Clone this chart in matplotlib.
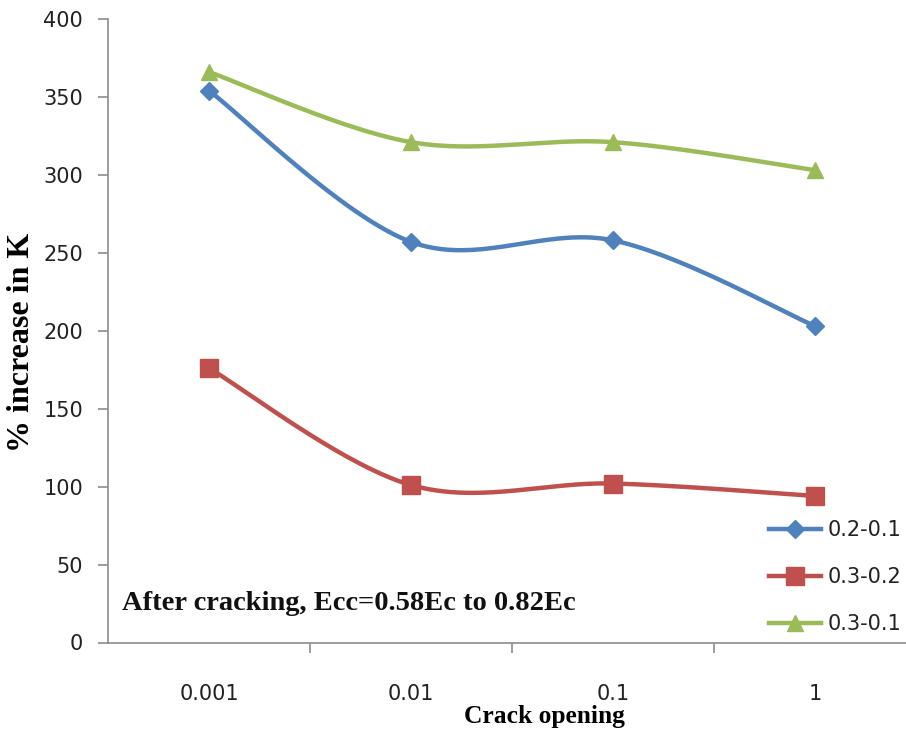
import numpy as np
import matplotlib
matplotlib.use("Agg")
import matplotlib.pyplot as plt

# Data
crack_opening = ["0.001", "0.01", "0.1", "1"]
series_labels = ["0.2-0.1", "0.3-0.2", "0.3-0.1"]
k_02_01 = [354, 257, 258, 203]
k_03_02 = [176, 101, 102, 94]
k_03_01 = [366, 321, 321, 303]

colors = ["#4F81BD", "#C0504D", "#9BBB59"]
markers = ["D", "s", "^"]
msizes = [9.5, 13, 12]


def smooth_curve(xs, ys, n=60):
    """Catmull-Rom style cubic Bezier through the points (spreadsheet 'smoothed line')."""
    P = np.column_stack([xs, ys]).astype(float)
    ext = np.vstack([P[0], P, P[-1]])
    out = []
    for i in range(len(P) - 1):
        p0, p1, p2, p3 = ext[i], ext[i + 1], ext[i + 2], ext[i + 3]
        c1 = p1 + (p2 - p0) / 6.0
        c2 = p2 - (p3 - p1) / 6.0
        t = np.linspace(0, 1, n)[:, None]
        seg = ((1 - t) ** 3) * p1 + 3 * ((1 - t) ** 2) * t * c1 + 3 * (1 - t) * t ** 2 * c2 + t ** 3 * p2
        out.append(seg if i == 0 else seg[1:])
    seg = np.vstack(out)
    return seg[:, 0], seg[:, 1]


W, H = 906, 732
fig = plt.figure(figsize=(W / 100, H / 100), dpi=100)
ax = fig.add_axes([108 / W, 89.5 / H, 808 / W, 623.5 / H])

x = np.arange(1, len(crack_opening) + 1)
for vals, lab, c, m, ms in zip([k_02_01, k_03_02, k_03_01], series_labels, colors, markers, msizes):
    sx, sy = smooth_curve(x, vals)
    ax.plot(sx, sy, color=c, lw=3.2, solid_capstyle="round", zorder=2)
    ax.plot(x, vals, linestyle="none", marker=m, markersize=ms, color=c, zorder=3)
    ax.plot([], [], color=c, lw=3.2, marker=m, markersize=ms, label=lab)

ax.set_xlim(0.5, len(crack_opening) + 0.5)
ax.set_ylim(0, 400)
ax.set_yticks(np.arange(0, 401, 50))
ax.set_xticks(x)
ax.set_xticklabels(crack_opening)
ax.set_xticks(np.arange(1.5, len(crack_opening) + 0.5, 1.0), minor=True)

for s in ["top", "right"]:
    ax.spines[s].set_visible(False)
for s in ["left", "bottom"]:
    ax.spines[s].set_color("#8c8c8c")
    ax.spines[s].set_linewidth(1.2)

ax.tick_params(axis="y", direction="out", length=7, width=1.2, color="#8c8c8c",
               labelsize=15, labelcolor="#222222", pad=11)
ax.tick_params(axis="x", which="major", length=0, labelsize=15, labelcolor="#222222", pad=30)
ax.tick_params(axis="x", which="minor", direction="out", length=7, width=1.2, color="#8c8c8c")

serif = ["Liberation Serif", "DejaVu Serif"]
ax.set_ylabel("% increase in K", fontsize=23, fontweight="bold", family=serif)
ax.yaxis.set_label_coords(-(108 - 22) / 808, (642.5 - 342) / 623.5)
ax.set_xlabel("Crack opening", fontsize=18.4, fontweight="bold", family=serif)
ax.xaxis.set_label_coords((544 - 108) / 808, -(716 - 642.5) / 623.5)
ax.xaxis.label.set_verticalalignment("center")
ax.yaxis.label.set_verticalalignment("center")

ax.text(14 / 808, (642.5 - 604) / 623.5, "After cracking, Ecc=0.58Ec to 0.82Ec",
        transform=ax.transAxes, fontsize=20.5, fontweight="bold", family=serif,
        va="center", ha="left", color="#111111")

fig.legend(loc="upper left", bbox_to_anchor=(769 / W, 1 - 520 / H), frameon=False,
           fontsize=15, handlelength=2.5, handletextpad=0.3, labelspacing=1.3,
           borderpad=0, borderaxespad=0, labelcolor="#222222")

fig.savefig("out.png", dpi=100)
